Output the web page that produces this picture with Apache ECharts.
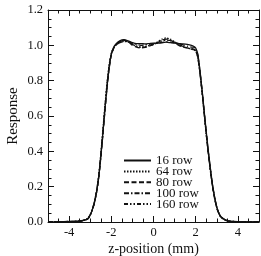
<!DOCTYPE html>
<html>
<head>
<meta charset="utf-8">
<script src="https://cdn.jsdelivr.net/npm/echarts@6/dist/echarts.min.js"></script>
<style>
  html, body { margin: 0; padding: 0; background: #fff; }
  #chart { width: 261px; height: 256px; }
</style>
</head>
<body>
<div id="chart"></div>
<script>
// z-position (mm) sample points shared by all detector configs
const zPos = [-5, -4.5, -4, -3.6, -3.4, -3.2, -3.1, -3.0, -2.9, -2.8, -2.7, -2.6, -2.5, -2.4, -2.3,
  -2.2, -2.1, -2.0, -1.9, -1.8, -1.6, -1.4, -1.2, -1.0, -0.8, -0.6, -0.4, -0.2, 0, 0.2,
  0.4, 0.6, 0.8, 1.0, 1.2, 1.4, 1.6, 1.8, 1.9, 2.0, 2.1, 2.2, 2.3, 2.4, 2.5,
  2.6, 2.7, 2.8, 2.9, 3.0, 3.1, 3.2, 3.4, 3.6, 4.0, 4.5, 5.0];

const row16 = [0, 0.001, 0.002, 0.004, 0.007, 0.013, 0.02, 0.04, 0.07, 0.11, 0.17, 0.25, 0.37, 0.5, 0.64,
  0.77, 0.88, 0.95, 0.985, 1.005, 1.025, 1.032, 1.025, 1.015, 1.01, 1.01, 1.008, 1.01, 1.012, 1.012,
  1.015, 1.018, 1.015, 1.012, 1.01, 1.008, 1.005, 1.0, 0.995, 0.985, 0.95, 0.86, 0.75, 0.63, 0.51,
  0.4, 0.3, 0.21, 0.14, 0.085, 0.05, 0.03, 0.012, 0.005, 0.002, 0.001, 0];
const row64 = [0, 0.002, 0.003, 0.005, 0.008, 0.015, 0.022, 0.042, 0.072, 0.115, 0.175, 0.26, 0.38, 0.52, 0.66,
  0.79, 0.89, 0.955, 0.985, 1.0, 1.015, 1.025, 1.02, 1.005, 0.995, 0.99, 0.992, 1.0, 1.008, 1.02,
  1.035, 1.042, 1.035, 1.02, 1.005, 0.995, 0.985, 0.98, 0.978, 0.97, 0.935, 0.85, 0.74, 0.62, 0.5,
  0.39, 0.29, 0.2, 0.135, 0.08, 0.048, 0.028, 0.011, 0.005, 0.002, 0.001, 0];
const row80 = [0, 0.001, 0.003, 0.005, 0.007, 0.012, 0.019, 0.038, 0.068, 0.108, 0.165, 0.245, 0.36, 0.49, 0.63,
  0.76, 0.87, 0.945, 0.98, 1.0, 1.02, 1.03, 1.02, 1.0, 0.99, 0.985, 0.988, 0.995, 1.005, 1.015,
  1.03, 1.035, 1.03, 1.015, 1.0, 0.99, 0.985, 0.978, 0.975, 0.968, 0.93, 0.845, 0.735, 0.615, 0.495,
  0.385, 0.285, 0.2, 0.13, 0.078, 0.046, 0.027, 0.01, 0.004, 0.002, 0.001, 0];
const row100 = [0, 0.002, 0.002, 0.004, 0.006, 0.014, 0.021, 0.041, 0.071, 0.112, 0.172, 0.255, 0.375, 0.51, 0.65,
  0.78, 0.885, 0.95, 0.982, 1.0, 1.015, 1.022, 1.02, 1.012, 1.005, 1.0, 1.002, 1.006, 1.01, 1.012,
  1.016, 1.02, 1.018, 1.015, 1.01, 1.002, 0.995, 0.99, 0.99, 0.98, 0.945, 0.855, 0.745, 0.625, 0.505,
  0.395, 0.295, 0.205, 0.138, 0.082, 0.049, 0.029, 0.012, 0.005, 0.002, 0.001, 0];
const row160 = [0, 0.001, 0.003, 0.004, 0.008, 0.014, 0.02, 0.039, 0.069, 0.11, 0.168, 0.25, 0.365, 0.5, 0.64,
  0.77, 0.875, 0.948, 0.983, 1.002, 1.02, 1.028, 1.02, 1.005, 0.995, 0.99, 0.99, 0.998, 1.005, 1.015,
  1.025, 1.03, 1.028, 1.018, 1.005, 0.992, 0.985, 0.98, 0.978, 0.97, 0.935, 0.85, 0.74, 0.62, 0.5,
  0.39, 0.29, 0.2, 0.135, 0.08, 0.047, 0.028, 0.011, 0.004, 0.002, 0.001, 0];

const seriesNames = ["16 row", "64 row", "80 row", "100 row", "160 row"];
const seriesValues = [row16, row64, row80, row100, row160];
const xMajorTicks = [-4, -2, 0, 2, 4];

const dashes = ["solid", [1.5, 1.5], [5, 2.5], [5, 2, 1.5, 2], [4, 2, 1.5, 2, 1.5, 2]];
const ink = "#111";
const font = "Liberation Serif";

const chart = echarts.init(document.getElementById("chart"), null, { renderer: "canvas" });

// minor ticks every 0.5, major (labelled) every 2
const xAxisBase = (position, showLabel, major) => ({
  type: "value",
  position: position,
  min: -5,
  max: 5,
  interval: 0.5,
  axisLine: { show: !major, onZero: false, lineStyle: { color: ink, width: 1 } },
  splitLine: { show: false },
  axisTick: major
    ? { show: true, inside: true, length: 6, customValues: xMajorTicks, lineStyle: { color: ink } }
    : { show: true, inside: true, length: 3.5, lineStyle: { color: ink } },
  axisLabel: showLabel
    ? { show: true, customValues: xMajorTicks, margin: 4, color: ink, fontFamily: font, fontSize: 12.5 }
    : { show: false },
});

const yAxisBase = (position, showLabel) => ({
  type: "value",
  position: position,
  min: 0,
  max: 1.2,
  interval: 0.2,
  axisLine: { show: true, onZero: false, lineStyle: { color: ink, width: 1 } },
  splitLine: { show: false },
  axisTick: { show: true, inside: true, length: 6, lineStyle: { color: ink } },
  minorTick: { show: true, splitNumber: 4, length: 3.5, lineStyle: { color: ink } },
  axisLabel: {
    show: showLabel,
    margin: 5,
    color: ink,
    fontFamily: font,
    fontSize: 12.5,
    formatter: (v) => v.toFixed(1),
  },
});

const xBottom = xAxisBase("bottom", true, false);
xBottom.name = "z-position (mm)";
xBottom.nameLocation = "middle";
xBottom.nameGap = 20.5;
xBottom.nameMoveOverlap = false;
xBottom.nameTextStyle = { color: ink, fontFamily: font, fontSize: 14 };

const yLeft = yAxisBase("left", true);
yLeft.name = "Response";
yLeft.nameLocation = "middle";
yLeft.nameGap = 27;
yLeft.nameMoveOverlap = false;
yLeft.nameTextStyle = { color: ink, fontFamily: font, fontSize: 15 };

const option = {
  animation: false,
  grid: { left: 48, right: 2, top: 10, bottom: 34, outerBoundsMode: "none" },
  xAxis: [
    xBottom,
    xAxisBase("bottom", false, true),
    xAxisBase("top", false, false),
    xAxisBase("top", false, true),
  ],
  yAxis: [yLeft, yAxisBase("right", false)],
  legend: {
    orient: "vertical",
    left: 123,
    top: 154,
    padding: 0,
    itemWidth: 27,
    itemHeight: 8,
    itemGap: -2.1,
    itemStyle: { opacity: 0 },
    textStyle: { color: ink, fontFamily: font, fontSize: 13 },
    data: seriesNames,
  },
  series: seriesNames.map((name, i) => ({
    name: name,
    type: "line",
    xAxisIndex: 0,
    yAxisIndex: 0,
    smooth: 0.2,
    symbol: "none",
    data: zPos.map((z, j) => [z, seriesValues[i][j]]),
    lineStyle: { color: ink, width: 1.3, type: dashes[i] },
    itemStyle: { color: ink },
  })),
};

chart.setOption(option);
</script>
</body>
</html>
